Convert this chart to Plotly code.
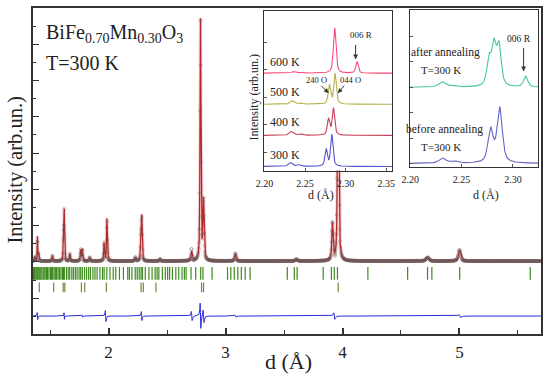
import numpy as np
import plotly.graph_objects as go

W, H = 550, 379
OFF = 0  # page offset of the figure (body margin removed below)
ML, MR, MT, MB = 33, 6, 7, 45
PW = W - ML - MR
PH = H - MT - MB


def px(x):
    return (x - OFF - ML) / PW


def py(y):
    return (H - MB - (y - OFF)) / PH


SERIF = "Liberation Serif, Times New Roman, serif"

# ---------------- main pattern data (d in Angstrom, intensity arb.) ----------
peak_d = [1.370, 1.392, 1.401, 1.520, 1.614, 1.621, 1.669, 1.762, 1.776, 1.839,
          1.962, 1.986, 2.229, 2.276, 2.284, 2.440, 2.711, 2.786, 2.812, 3.085,
          3.606, 3.914, 3.963, 4.727, 5.002]
peak_h = [0.25, 1.35, 0.45, 0.32, 1.40, 2.75, 0.42, 0.62, 0.65, 0.22,
          1.00, 2.35, 0.22, 1.20, 2.40, 0.12, 0.52, 13.3, 3.30, 0.42,
          0.10, 2.05, 12.0, 0.20, 0.60]
peak_w = [0.006, 0.005, 0.006, 0.007, 0.006, 0.006, 0.007, 0.008, 0.008, 0.008,
          0.008, 0.008, 0.009, 0.008, 0.008, 0.010, 0.012, 0.009, 0.012, 0.014,
          0.020, 0.013, 0.013, 0.030, 0.024]
background = 0.05

diff_d = [1.392, 1.621, 1.776, 1.975, 2.283, 2.711, 2.786, 2.812, 3.085, 3.93, 5.002]
diff_a = [0.20, 0.18, 0.06, 0.30, 0.25, 0.25, 0.70, 0.35, 0.06, 0.18, 0.08]
diff_w = [0.006, 0.006, 0.008, 0.010, 0.008, 0.012, 0.010, 0.012, 0.014, 0.016, 0.024]
diff_offset = -2.98

bragg_1 = [1.358, 1.366, 1.372, 1.381, 1.388, 1.395, 1.404, 1.412, 1.421, 1.430,
           1.441, 1.449, 1.458, 1.470, 1.478, 1.490, 1.503, 1.512, 1.522, 1.534,
           1.545, 1.556, 1.568, 1.580, 1.593, 1.606, 1.614, 1.622, 1.640, 1.655,
           1.668, 1.686, 1.700, 1.716, 1.731, 1.748, 1.762, 1.776, 1.795, 1.812,
           1.830, 1.845, 1.866, 1.884, 1.902, 1.926, 1.948, 1.962, 1.985, 2.012,
           2.040, 2.062, 2.093, 2.127, 2.164, 2.178, 2.200, 2.228, 2.245, 2.262,
           2.278, 2.290, 2.314, 2.345, 2.372, 2.398, 2.415, 2.430, 2.460, 2.485,
           2.505, 2.522, 2.546, 2.575, 2.600, 2.628, 2.648, 2.663, 2.705, 2.745,
           2.788, 2.807, 2.885, 3.017, 3.045, 3.075, 3.105, 3.135, 3.168, 3.210,
           3.528, 3.588, 3.612, 3.835, 3.905, 3.930, 3.957, 4.217, 4.557, 4.727,
           4.764, 5.002, 5.605]
bragg_2 = [1.408, 1.531, 1.612, 1.626, 1.768, 1.796, 1.981, 2.278, 2.297, 2.405,
           2.795, 2.812, 3.963]
bragg_1_level = -0.63
bragg_2_level = -1.40

# ---------------- inset 1 (temperature dependence) --------------------------
ins1_labels = ["300 K", "400 K", "500 K", "600 K"]
ins1_offsets = [0.0, 1.0, 2.0, 3.0]
ins1_colors = ["#5656c8", "#c8405a", "#b4b048", "#ff4a78"]
ins1_peak_d = [[2.232, 2.243, 2.276, 2.283],
               [2.233, 2.244, 2.279, 2.285],
               [2.234, 2.244, 2.280, 2.287],
               [2.236, 2.246, 2.2866, 2.314]]
ins1_peak_h = [[0.12, 0.05, 0.55, 1.02],
               [0.12, 0.05, 0.52, 0.87],
               [0.11, 0.04, 0.62, 0.98],
               [0.05, 0.03, 1.46, 0.38]]
ins1_peak_w = [[0.006, 0.006, 0.0035, 0.0035],
               [0.006, 0.006, 0.0035, 0.0035],
               [0.006, 0.006, 0.0035, 0.0035],
               [0.006, 0.006, 0.0038, 0.0035]]

# ---------------- inset 2 (annealing) ---------------------------------------
ins2_labels = ["before annealing", "after annealing"]
ins2_offsets = [0.0, 3.0]
ins2_colors = ["#6464c8", "#46c8a2"]
ins2_peak_d = [[2.2314, 2.2430, 2.2783, 2.2871],
               [2.2312, 2.2420, 2.2767, 2.2816, 2.2865, 2.3124]]
ins2_peak_h = [[0.20, 0.09, 1.30, 2.16],
               [0.21, 0.07, 1.05, 1.53, 1.57, 0.42]]
ins2_peak_w = [[0.008, 0.008, 0.006, 0.006],
               [0.008, 0.008, 0.005, 0.005, 0.005, 0.005]]


def profile(x, centers, heights, widths, base=0.0):
    y = np.full_like(x, base, dtype=float)
    for c, h, w in zip(centers, heights, widths):
        u = (x - c) / (w / 2.0)
        lor = 1.0 / (1.0 + u * u)
        gau = np.exp(-np.log(2) * u * u)
        y += h * (0.6 * lor + 0.4 * gau)
    return y


def wiggle(x, centers, amps, widths):
    y = np.zeros_like(x, dtype=float)
    for c, a, w in zip(centers, amps, widths):
        u = (x - c) / (w / 2.0)
        y += a * (-2 * u / (1 + u * u) ** 2) / 0.6495
    return y


d_calc = np.arange(1.354, 5.697, 0.0006)
I_calc = profile(d_calc, peak_d, peak_h, peak_w, background)
d_obs = d_calc[::5]
I_obs = profile(d_obs, peak_d, peak_h, peak_w, background) + wiggle(d_obs, diff_d, diff_a, diff_w)
I_diff = diff_offset + wiggle(d_calc, diff_d, diff_a, diff_w)

fig = go.Figure()

# calculated (under) with a soft halo
fig.add_trace(go.Scatter(x=d_calc, y=I_calc, mode="lines",
                         line=dict(color="rgba(240,140,150,0.35)", width=3.5),
                         showlegend=False, hoverinfo="skip"))
fig.add_trace(go.Scatter(x=d_calc, y=I_calc, mode="lines",
                         line=dict(color="#b02828", width=1.3),
                         showlegend=False, hoverinfo="skip"))
# observed
fig.add_trace(go.Scatter(x=d_obs, y=I_obs, mode="markers",
                         marker=dict(symbol="circle-open", size=3, color="rgba(110,90,90,0.5)",
                                     line=dict(width=0.7)),
                         showlegend=False, hoverinfo="skip"))
# Bragg positions
fig.add_trace(go.Scatter(x=bragg_1, y=[bragg_1_level] * len(bragg_1), mode="markers",
                         marker=dict(symbol="line-ns-open", size=9, color="#3d8a1e",
                                     line=dict(color="#3d8a1e", width=1.2)),
                         showlegend=False, hoverinfo="skip"))
fig.add_trace(go.Scatter(x=bragg_2, y=[bragg_2_level] * len(bragg_2), mode="markers",
                         marker=dict(symbol="line-ns-open", size=7, color="#6c8a3a",
                                     line=dict(color="#6c8a3a", width=1.2)),
                         showlegend=False, hoverinfo="skip"))
# difference
fig.add_trace(go.Scatter(x=d_calc, y=I_diff, mode="lines",
                         line=dict(color="#2a2ae0", width=1),
                         showlegend=False, hoverinfo="skip"))

# inset 1
x1 = np.arange(2.199, 2.358, 0.0004)
for k in range(4):
    y = profile(x1, ins1_peak_d[k], ins1_peak_h[k], ins1_peak_w[k], ins1_offsets[k])
    fig.add_trace(go.Scatter(x=x1, y=y, mode="lines", xaxis="x2", yaxis="y2",
                             line=dict(color=ins1_colors[k], width=1.1),
                             showlegend=False, hoverinfo="skip"))
# inset 2
x2 = np.arange(2.198, 2.326, 0.0004)
for k in range(2):
    y = profile(x2, ins2_peak_d[k], ins2_peak_h[k], ins2_peak_w[k], ins2_offsets[k])
    fig.add_trace(go.Scatter(x=x2, y=y, mode="lines", xaxis="x3", yaxis="y3",
                             line=dict(color=ins2_colors[k], width=1.1),
                             showlegend=False, hoverinfo="skip"))

axis_line = dict(showline=True, linecolor="#333", mirror=True, showgrid=False, zeroline=False)

# inset domains (page pixels)
in1 = dict(x0=265, x1=394, y0=10, y1=170)
in2 = dict(x0=412, x1=541, y0=9, y1=166)

fig.update_layout(
    width=W, height=H,
    margin=dict(l=ML, r=MR, t=MT, b=MB),
    paper_bgcolor="white", plot_bgcolor="white",
    font=dict(family=SERIF, color="#222"),
    xaxis=dict(domain=[0, 1], range=[1.354, 5.697], tickvals=[2, 3, 4, 5],
               ticks="inside", ticklen=6, tickwidth=1.5, tickcolor="#333",
               minor=dict(tickvals=[1.5, 2.5, 3.5, 4.5, 5.5], ticks="inside", ticklen=4,
                          tickwidth=1.2, tickcolor="#333"),
               tickfont=dict(size=17, family=SERIF), ticklabelstandoff=2,
               linewidth=1.8, **axis_line),
    yaxis=dict(domain=[0, 1], range=[-3.97, 14.0], tickvals=list(range(-2, 15, 2)),
               ticks="inside", ticklen=6, tickwidth=1.3, tickcolor="#333",
               minor=dict(tickvals=list(range(-3, 15, 2)), ticks="inside", ticklen=3,
                          tickwidth=1.2, tickcolor="#333"),
               showticklabels=False, linewidth=1.8, **axis_line),
    xaxis2=dict(domain=[px(in1["x0"]), px(in1["x1"])], anchor="y2", range=[2.199, 2.357],
                tickvals=[2.20, 2.25, 2.30, 2.35], ticktext=["2.20", "2.25", "2.30", "2.35"],
                ticks="inside", ticklen=3, tickcolor="#555", tickfont=dict(size=10, family=SERIF),
                ticklabelstandoff=3, linewidth=1, **axis_line),
    yaxis2=dict(domain=[py(in1["y1"]), py(in1["y0"])], anchor="x2", range=[-0.13, 5.0],
                tickvals=[0.45, 1.34, 2.23, 3.11, 4.0], ticks="inside", ticklen=3,
                tickcolor="#555", showticklabels=False, linewidth=1, **axis_line),
    xaxis3=dict(domain=[px(in2["x0"]), px(in2["x1"])], anchor="y3", range=[2.1995, 2.3245],
                tickvals=[2.20, 2.25, 2.30], ticktext=["2.20", "2.25", "2.30"],
                ticks="inside", ticklen=3, tickcolor="#555", tickfont=dict(size=10, family=SERIF),
                ticklabelstandoff=3, linewidth=1, **axis_line),
    yaxis3=dict(domain=[py(in2["y1"]), py(in2["y0"])], anchor="x3", range=[-0.12, 6.05],
                tickvals=[0, 1, 2, 3, 4, 5], ticks="inside", ticklen=3,
                tickcolor="#555", showticklabels=False, linewidth=1, **axis_line),
)


def ann(text, x, y, size, xanchor="center", yanchor="middle", angle=0, color="#222"):
    fig.add_annotation(text=text, x=px(x), y=py(y), xref="paper", yref="paper",
                       xanchor=xanchor, yanchor=yanchor, showarrow=False, textangle=angle,
                       font=dict(size=size, family=SERIF, color=color))


def arrow(x_tail, y_tail, x_head, y_head):
    # shaft
    fig.add_shape(type="line", xref="paper", yref="paper",
                  x0=px(x_tail), y0=py(y_tail), x1=px(x_head), y1=py(y_head),
                  line=dict(color="#333", width=1))
    # head (small triangle)
    dx, dy = x_head - x_tail, y_head - y_tail
    n = (dx * dx + dy * dy) ** 0.5
    ux, uy = dx / n, dy / n
    L, Wd = 4.0, 2.0
    bx, by = x_head - ux * L, y_head - uy * L
    p1 = (bx - uy * Wd, by + ux * Wd)
    p2 = (bx + uy * Wd, by - ux * Wd)
    path = "M {} {} L {} {} L {} {} Z".format(px(x_head), py(y_head), px(p1[0]), py(p1[1]),
                                             px(p2[0]), py(p2[1]))
    fig.add_shape(type="path", xref="paper", yref="paper", path=path,
                  fillcolor="#333", line=dict(color="#333", width=0.5))


# main texts
ann("BiFe<sub>0.70</sub>Mn<sub>0.30</sub>O<sub>3</sub>", 44, 33, 20, xanchor="left")
ann("T=300 K", 44, 62, 20, xanchor="left")
ann("Intensity (arb.un.)", 15, 170, 20.5, angle=-90)
ann("d (Å)", 290, 362, 22)

# inset 1 texts
ann("Intensity (arb.un.)", 255, 97, 12, angle=-90)
ann("d (Å)", 323, 195, 12)
for lab, yy in zip(ins1_labels, [154, 121, 91, 61]):
    ann(lab, 269, yy, 12, xanchor="left")
ann("006 R", 363, 34, 9)
arrow(357.5, 44, 357.5, 58)
ann("240 O", 318, 79, 8.5)
arrow(323, 85, 330, 92)
ann("044 O", 352, 79, 8.5)
arrow(346, 85, 340, 92)

# inset 2 texts
ann("d (Å)", 489, 195, 12)
ann("after annealing", 448, 52, 11.5)
ann("T=300 K", 443, 69, 11)
ann("before annealing", 447, 129, 11.5)
ann("T=300 K", 443, 146, 11)
ann("006 R", 522, 38, 9.5)
arrow(526.5, 47, 526.5, 70)

fig.write_html("out.html", config={"displayModeBar": False},
               post_script="document.body.style.margin='0px';")
